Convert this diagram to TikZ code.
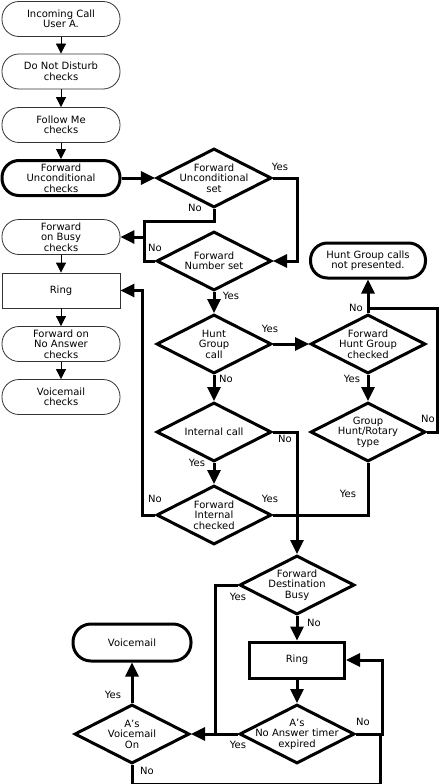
\documentclass[tikz,border=0pt]{standalone}
\usepackage{fontspec}
\setmainfont{DejaVu Sans}
\usetikzlibrary{arrows.meta,shapes.geometric}

\begin{document}
\begin{tikzpicture}[x=1pt,y=-1pt,
    font=\fontsize{10}{10.5}\selectfont,
    box/.style={draw=black!80,line width=0.8pt,minimum width=118pt,minimum height=35pt,align=center,inner sep=0pt},
    capsule/.style={box,rounded corners=17pt},
    thkcapsule/.style={capsule,draw=black,line width=3pt},
    thkbox/.style={box,draw=black,line width=3pt},
    dia/.style={diamond,draw,line width=3pt,minimum width=115pt,minimum height=59pt,inner sep=0pt},
    txt/.style={align=center,inner sep=0pt},
    lbl/.style={inner sep=0pt},
    thn/.style={line width=0.8pt,-{Triangle[length=10pt,width=10pt]}},
    thk/.style={line width=3pt},
    arr/.style={thk,-{Triangle[length=14pt,width=13pt]}}]
                \useasboundingbox (0,0) rectangle (441,784);
                \node[capsule] (inc) at (61,19) {Incoming Call\\User A.};
                \node[capsule] (dnd) at (61,71.5) {Do Not Disturb\\checks};
                \node[capsule] (flm) at (61,125) {Follow Me\\checks};
                \node[thkcapsule] (fuc) at (61,178) {Forward\\Unconditional\\checks};
                \node[capsule] (fob) at (61,237) {Forward\\on Busy\\checks};
                \node[box] (rng) at (61,290.5) {Ring};
                \node[capsule] (fna) at (61,344) {Forward on\\No Answer\\checks};
                \node[capsule] (vmc) at (61,397) {Voicemail\\checks};
                \node[dia] (dfu) at (214,178) {};
                \node[txt] (dfu-t) at (dfu) {Forward\\Unconditional\\set};
                \node[dia] (dfn) at (214,261) {};
                \node[txt] (dfn-t) at (dfn) {Forward\\Number set};
                \node[dia] (dhg) at (214,344) {};
                \node[txt] (dhg-t) at (dhg) {Hunt\\Group\\call};
                \node[dia] (dfh) at (368,344) {};
                \node[txt] (dfh-t) at (dfh) {Forward\\Hunt Group\\checked};
                \node[dia] (dgh) at (368,432) {};
                \node[txt] (dgh-t) at (dgh) {Group\\Hunt/Rotary\\type};
                \node[dia] (dic) at (214,432) {};
                \node[txt] (dic-t) at (dic) {Internal call};
                \node[dia] (dfi) at (214,515) {};
                \node[txt] (dfi-t) at (dfi) {Forward\\Internal\\checked};
                \node[dia] (dfd) at (297,585) {};
                \node[txt] (dfd-t) at (dfd) {Forward\\Destination\\Busy};
                \node[dia] (dna) at (297,734) {};
                \node[txt] (dna-t) at (dna) {A’s\\No Answer timer\\expired};
                \node[dia] (dvm) at (132,734) {};
                \node[txt] (dvm-t) at (dvm) {A’s\\Voicemail\\On};
                \node[thkcapsule,minimum width=115pt] (hgn) at (368,260.5) {Hunt Group calls\\not presented.};
                \node[thkbox,minimum width=95pt,minimum height=36pt] (rg2) at (297,660) {Ring};
                \node[thkcapsule,minimum height=37pt,rounded corners=18pt] (vml) at (132,642.5) {Voicemail};
                \coordinate (jb) at (144,237);
                \coordinate (jh) at (368,308);
                \coordinate (jm) at (297,515);
                \coordinate (jv) at (215,734);
                \coordinate (jn) at (380,734);
                \draw[thn] (inc) -- (dnd);
                \draw[thn] (dnd) -- (flm);
                \draw[thn] (flm) -- (fuc);
                \draw[thn] (fob) -- (rng);
                \draw[thn] (rng) -- (fna);
                \draw[thn] (fna) -- (vmc);
                \draw[arr] (fuc) -- (dfu);
                \draw[arr] (dfu.east) -| (dfd |- dfn) -- (dfn.east);
                \draw[thk] (dfu.south) -- ++(0,12) -| (jb);
                \draw[thk] (dfn.west) -| (jb);
                \draw[arr] (jb) -- (fob.east);
                \draw[arr] (dfn) -- (dhg);
                \draw[arr] (dhg) -- (dfh);
                \draw[arr] (dhg) -- (dic);
                \draw[arr] (dfh) -- (hgn);
                \draw[thk] (dgh.east) -- ++(10,0) |- (jh);
                \draw[arr] (dfh) -- (dgh);
                \draw[thk] (dgh.south) |- (jm);
                \draw[thk] (dic.east) -| (jm);
                \draw[thk] (dfi.east) -- (jm);
                \draw[arr] (jm) -- (dfd.north);
                \draw[arr] (dic) -- (dfi);
                \draw[arr] (dfi.west) -- ++(-13,0) |- (rng.east);
                \draw[thk] (dfd.west) -| (jv);
                \draw[arr] (dfd) -- (rg2);
                \draw[arr] (rg2) -- (dna);
                \draw[arr] (dna) -- (dvm);
                \draw[arr] (dna.east) -- ++(26,0) |- (rg2.east);
                \draw[arr] (dvm) -- (vml);
                \draw[thk] (dvm.south) -- ++(0,19) -| (jn);
                \node[lbl] (l1) at (280,167) {Yes};
                \node[lbl] (l2) at (195,208) {No};
                \node[lbl] (l3) at (155,248) {No};
                \node[lbl] (l4) at (231,296) {Yes};
                \node[lbl] (l5) at (270,329) {Yes};
                \node[lbl] (l6) at (226,379) {No};
                \node[lbl] (l7) at (356,308) {No};
                \node[lbl] (l8) at (352,379) {Yes};
                \node[lbl] (l9) at (428,419) {No};
                \node[lbl] (l10) at (285,439) {No};
                \node[lbl] (l11) at (197,463) {Yes};
                \node[lbl] (l12) at (155,499) {No};
                \node[lbl] (l13) at (270,499) {Yes};
                \node[lbl] (l14) at (348,494) {Yes};
                \node[lbl] (l15) at (238,597) {Yes};
                \node[lbl] (l16) at (314,623) {No};
                \node[lbl] (l17) at (363,722) {No};
                \node[lbl] (l18) at (238,745) {Yes};
                \node[lbl] (l19) at (113,695) {Yes};
                \node[lbl] (l20) at (147,771) {No};
            \end{tikzpicture}
\end{document}
